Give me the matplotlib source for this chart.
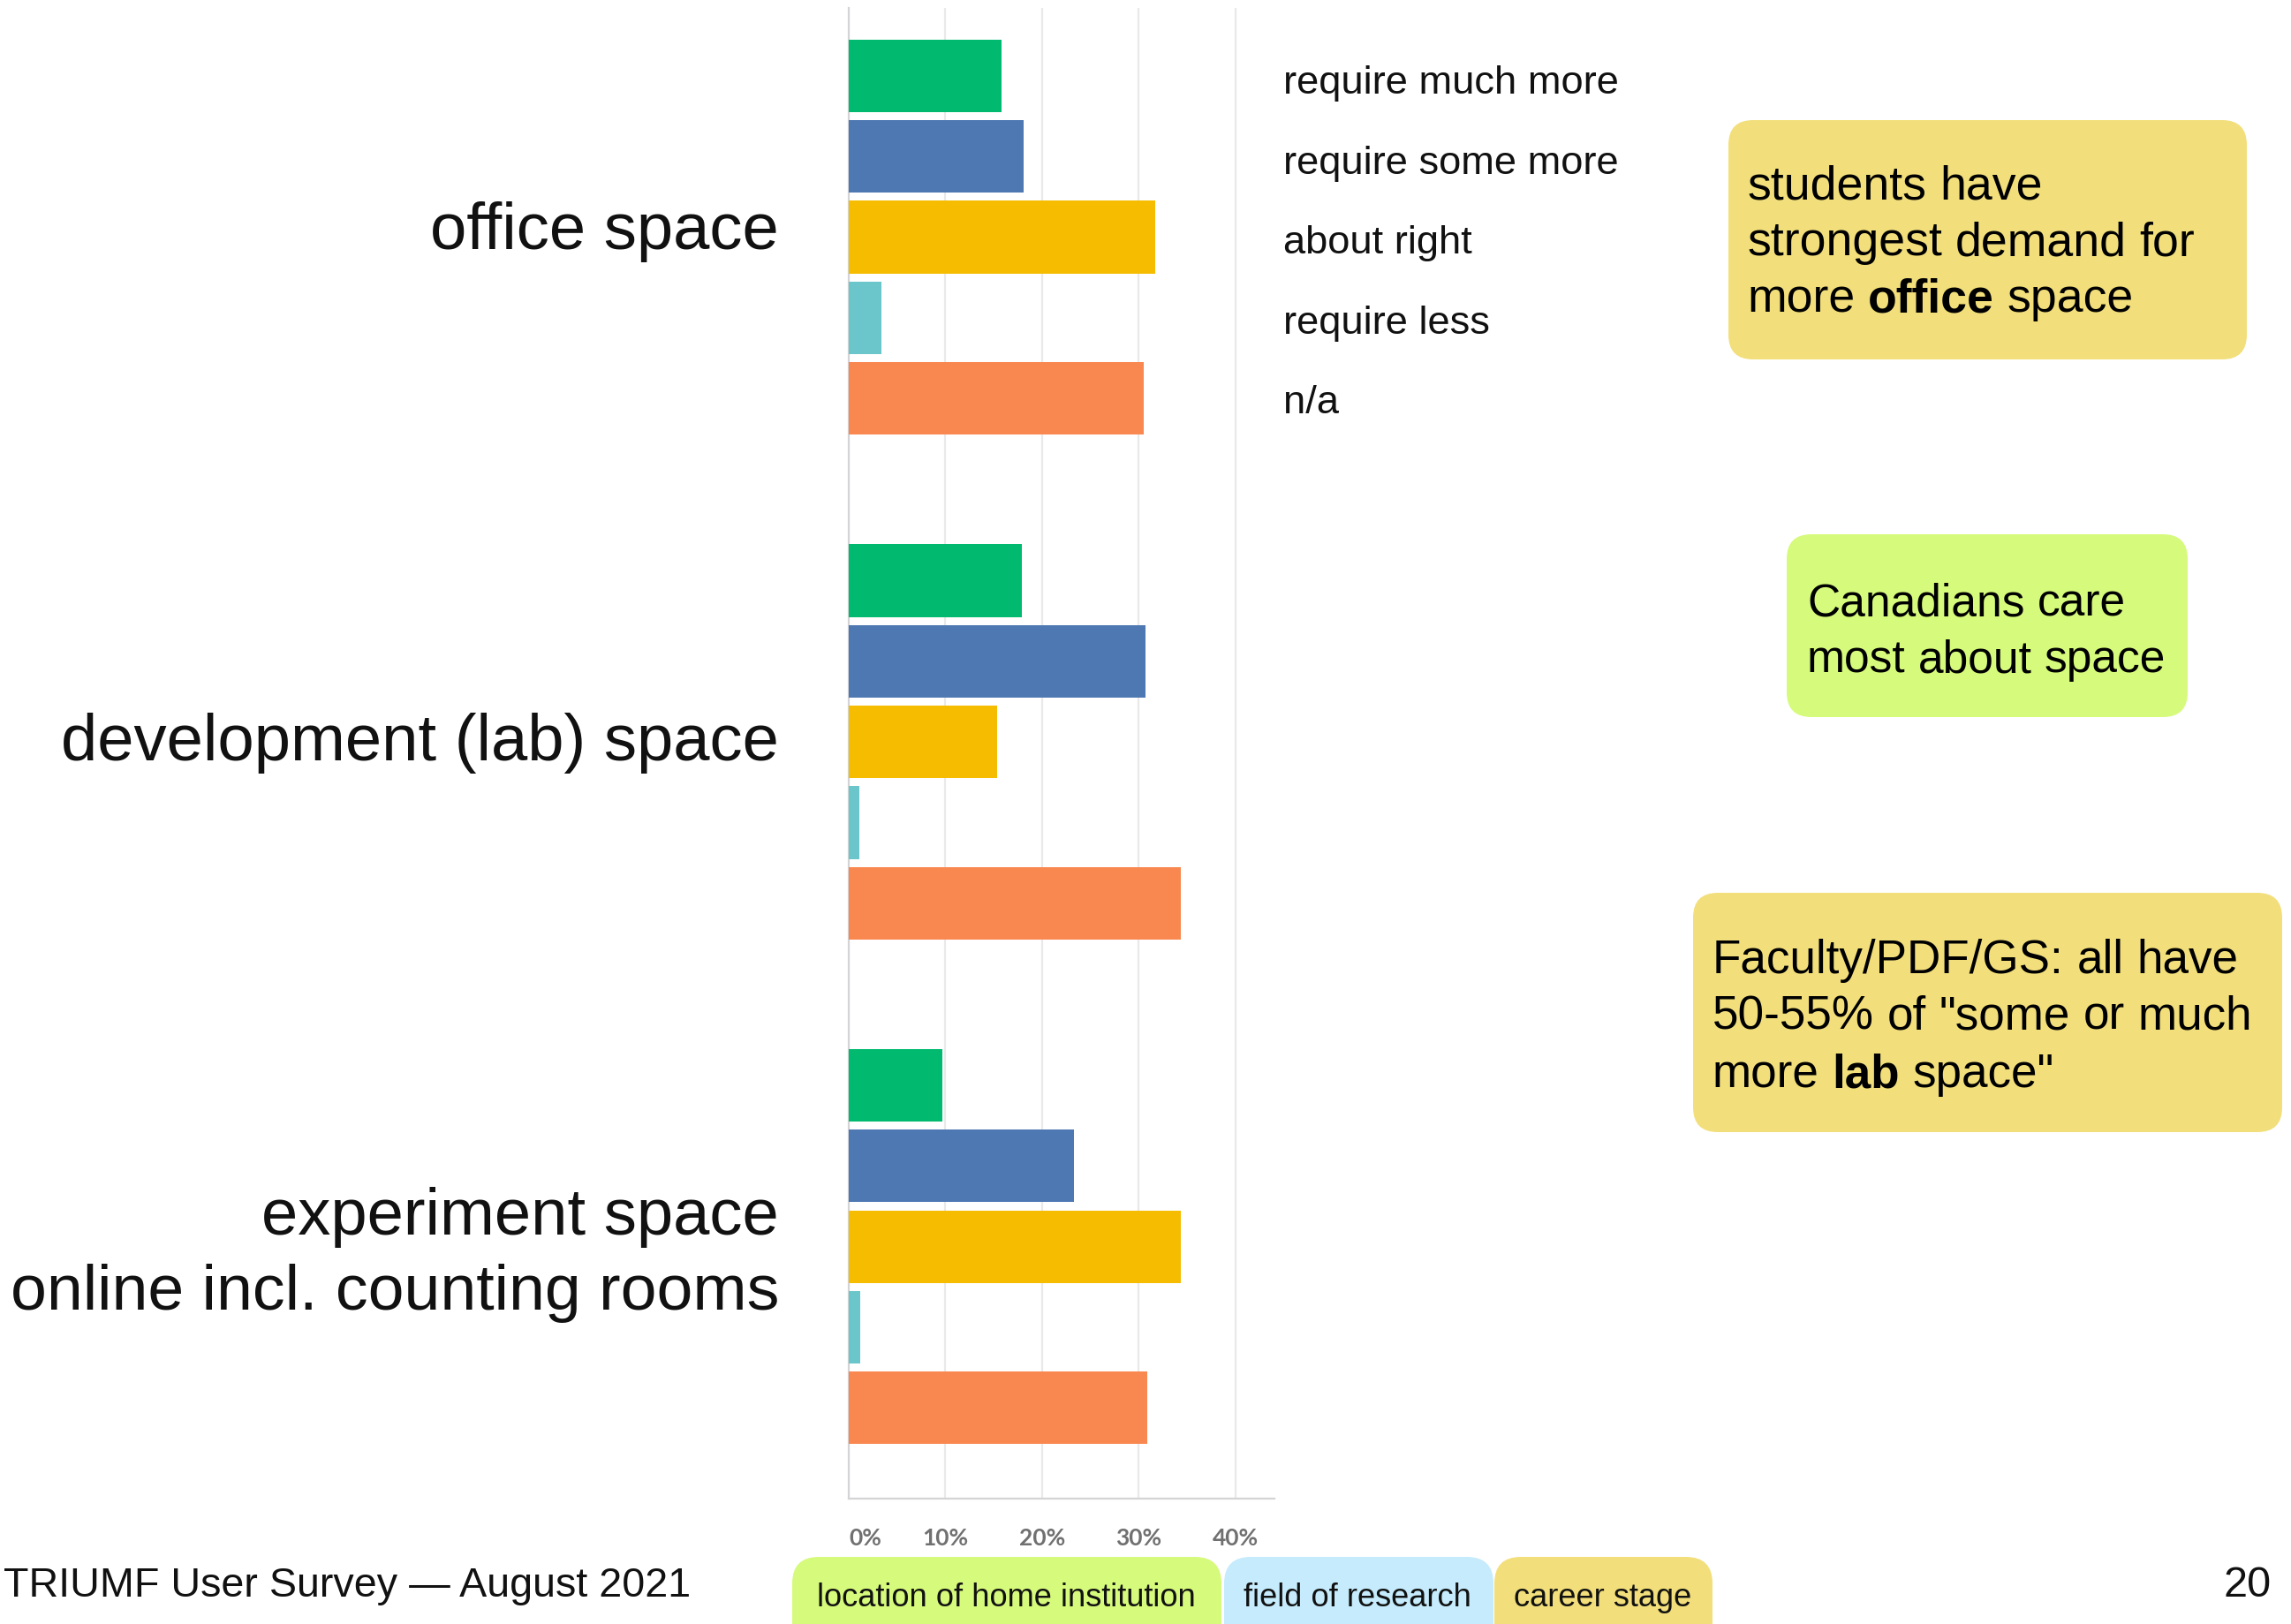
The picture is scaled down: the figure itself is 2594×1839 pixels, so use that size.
import matplotlib
matplotlib.use("Agg")
import matplotlib.pyplot as plt
from matplotlib.patches import FancyBboxPatch
from matplotlib.transforms import IdentityTransform

# ---------------- data ----------------
categories = ["office space", "development (lab) space",
              "experiment space\nonline incl. counting rooms"]
responses = ["require much more", "require some more", "about right",
             "require less", "n/a"]
office_vals = [15.8, 18.1, 31.7, 3.4, 30.5]
lab_vals = [17.9, 30.7, 15.4, 1.1, 34.4]
experiment_vals = [9.7, 23.3, 34.4, 1.2, 30.9]
tick_vals = [0, 10, 20, 30, 40]
tick_labels = ["0%", "10%", "20%", "30%", "40%"]
bar_colors = ["#02BA6F", "#4E78B2", "#F5BC00", "#6AC6CA", "#F98850"]

# ---------------- figure ----------------
W, H = 2594, 1839
DPI = 100
plt.rcParams['font.family'] = ['Liberation Sans', 'DejaVu Sans']
fig = plt.figure(figsize=(W / DPI, H / DPI), dpi=DPI)
fig.patch.set_facecolor("white")
ID = IdentityTransform()


def px(y):
    return H - y


# axes layout
x_left, x_right = 961, 1443
y_top, y_bot = 9, 1697
xmax = 44.06
group_step = 6.26
ax = fig.add_axes([x_left / W, (H - y_bot) / H, (x_right - x_left) / W,
                   (y_bot - y_top) / H])
ax.set_facecolor("none")
all_vals = [office_vals, lab_vals, experiment_vals]
for g, vals in enumerate(all_vals):
    pos = [g * group_step + i for i in range(len(vals))]
    ax.barh(pos, vals, height=0.9, color=bar_colors, zorder=3)
ax.set_xlim(0, xmax)
ax.set_ylim(17.645, -0.843)
ax.set_yticks([])
for xv in tick_vals[1:]:
    ax.axvline(xv, color="#e9e9ea", lw=1.6, zorder=1)
for s in ["top", "right"]:
    ax.spines[s].set_visible(False)
for s in ["left", "bottom"]:
    ax.spines[s].set_color("#d4d4d6")
    ax.spines[s].set_linewidth(1.6)
ax.set_xticks(tick_vals)
ax.set_xticklabels(tick_labels)
ax.tick_params(axis="x", length=0, pad=24, labelsize=19,
               labelcolor="#707070")
for lab in ax.get_xticklabels():
    lab.set_family(["Lato", "DejaVu Sans"])
    lab.set_weight("bold")
ax.get_xticklabels()[0].set_ha("left")

# category labels
cat_baselines = [[282], [861], [1398, 1483]]
cat_sizes = [[53.5], [53.5], [53.5, 52.8]]
for cat, bls, sizes in zip(categories, cat_baselines, cat_sizes):
    for line, bl, sz in zip(cat.split("\n"), bls, sizes):
        fig.text(882, px(bl), line, transform=ID, ha="right", va="baseline",
                 fontsize=sz, color="#111111")

# legend (text only)
leg_baselines = [106, 197, 287, 378, 468]
for r, bl in zip(responses, leg_baselines):
    fig.text(1453, px(bl), r, transform=ID, ha="left", va="baseline",
             fontsize=32.6, color="#111111")

renderer = fig.canvas.get_renderer()


def space_width(size, weight="normal"):
    t1 = fig.text(0, 0, "x x", fontsize=size, weight=weight)
    t2 = fig.text(0, 0, "xx", fontsize=size, weight=weight)
    w = t1.get_window_extent(renderer).width - t2.get_window_extent(renderer).width
    t1.remove()
    t2.remove()
    return w


def rich_line(x, bl, pieces, size):
    sp = space_width(size)
    cur = x
    for txt, weight in pieces:
        words = txt.split(" ")
        for k, wd in enumerate(words):
            if wd:
                t = fig.text(cur, px(bl), wd, transform=ID, ha="left",
                             va="baseline", fontsize=size, weight=weight,
                             color="#000000", zorder=5)
                cur = t.get_window_extent(renderer).x1
            if k < len(words) - 1:
                cur += sp


def box(x0, y0, x1, y1, color, r=28):
    p = FancyBboxPatch((x0, H - y1), x1 - x0, y1 - y0,
                       boxstyle=f"round,pad=0,rounding_size={r}",
                       transform=ID, facecolor=color, edgecolor="none",
                       zorder=1)
    fig.add_artist(p)


# annotation boxes
box(1957, 136, 2544, 407, "#F2DF7B")
rich_line(1978, 225, [("students have", "normal")], 38.6)
rich_line(1978, 289, [("strongest demand for", "normal")], 38.6)
rich_line(1978, 353, [("more ", "normal"), ("office", "bold"),
                      (" space", "normal")], 38.6)

box(2023, 605, 2477, 812, "#D6FA7B")
rich_line(2046, 698, [("Canadians care", "normal")], 37.1)
rich_line(2046, 761, [("most about space", "normal")], 37.1)

box(1917, 1011, 2584, 1282, "#F2DF7B")
rich_line(1939, 1102, [("Faculty/PDF/GS: all have", "normal")], 38.2)
rich_line(1939, 1166, [("50-55% of \"some or much", "normal")], 38.2)
rich_line(1939, 1231, [("more ", "normal"), ("lab", "bold"),
                       (" space\"", "normal")], 38.2)

# bottom tabs
box(897, 1763, 1383, 1900, "#D6FA7B", r=30)
box(1386, 1763, 1691, 1900, "#C5EBFC", r=30)
box(1692, 1763, 1939, 1900, "#F2DF7B", r=30)
fig.text(925, px(1819), "location of home institution", transform=ID,
         ha="left", va="baseline", fontsize=26.1, color="#111111")
fig.text(1408, px(1819), "field of research", transform=ID,
         ha="left", va="baseline", fontsize=26.1, color="#111111")
fig.text(1714, px(1819), "career stage", transform=ID,
         ha="left", va="baseline", fontsize=26.1, color="#111111")

# footer
fig.text(4, px(1808), "TRIUMF User Survey \u2014 August 2021", transform=ID,
         ha="left", va="baseline", fontsize=33.6, color="#111111")
fig.text(2572, px(1808), "20", transform=ID, ha="right", va="baseline",
         fontsize=35, color="#111111")

fig.savefig("out.png", dpi=DPI, facecolor="white")
